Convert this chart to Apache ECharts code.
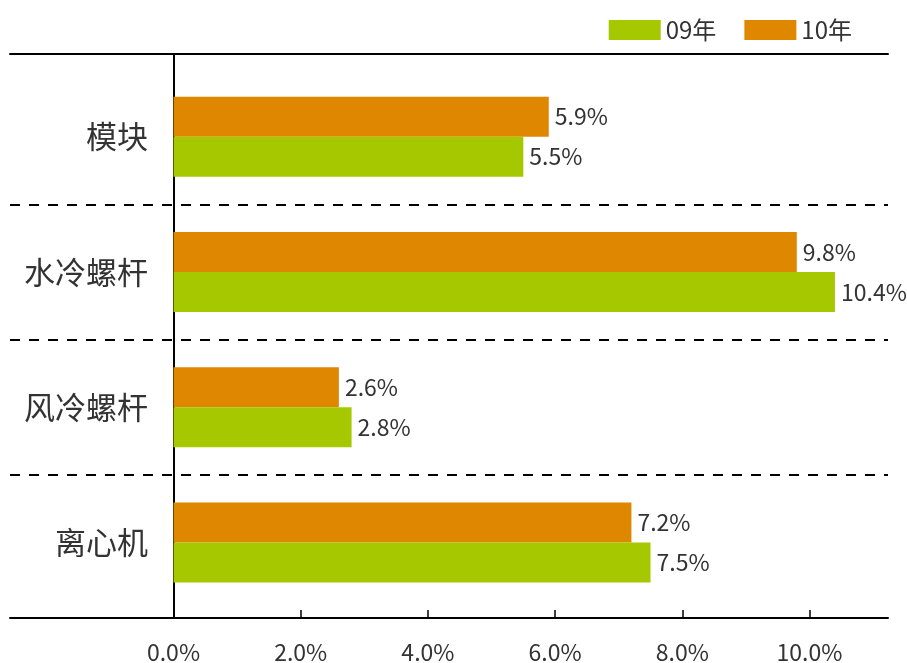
<!DOCTYPE html>
<html>
<head>
<meta charset="utf-8">
<script src="https://cdn.jsdelivr.net/npm/echarts@6/dist/echarts.min.js"></script>
<style>html,body{margin:0;padding:0;background:#fff}#c{width:907px;height:663px}</style>
</head>
<body>
<div id="c"></div>
<script>
const categories = ['模块', '水冷螺杆', '风冷螺杆', '离心机'];
const values09 = [5.5, 10.4, 2.8, 7.5];
const values10 = [5.9, 9.8, 2.6, 7.2];
const tickValues = [0, 2, 4, 6, 8, 10];
const seriesNames = ['09年', '10年'];

const GREEN = '#a6c800';
const ORANGE = '#e08700';
const TEXT = '#333';
const FONT = '"Noto Sans CJK SC", "Noto Sans", sans-serif';
const XMIN = -2.571, XMAX = 11.234;

const chart = echarts.init(document.getElementById('c'));
const pct = v => Number(v).toFixed(1) + '%';
chart.setOption({
  animation: false,
  textStyle: { fontFamily: FONT },
  legend: {
    data: seriesNames,
    right: 50, top: 13,
    icon: 'rect', itemWidth: 52, itemHeight: 20, itemGap: 28,
    textStyle: { fontSize: 24, color: TEXT, fontFamily: FONT }
  },
  grid: [
    { left: 10, right: 19, top: 54, bottom: 45, containLabel: false, outerBoundsMode: 'none' },
    { left: 10, right: 19, top: 69, bottom: 53, containLabel: false, outerBoundsMode: 'none' }
  ],
  xAxis: [
    {
      gridIndex: 0, type: 'value', min: XMIN, max: XMAX, position: 'bottom',
      axisLine: { show: true, onZero: false, lineStyle: { color: '#000', width: 2 } },
      axisTick: { show: true, inside: true, length: 8, customValues: tickValues.filter(v => v !== 0), lineStyle: { color: '#000', width: 1.5 } },
      axisLabel: { customValues: tickValues, formatter: pct, fontSize: 23, color: TEXT, margin: 23, fontFamily: FONT },
      splitLine: { show: false }
    },
    {
      gridIndex: 0, type: 'value', min: XMIN, max: XMAX, position: 'top',
      axisLine: { show: true, onZero: false, lineStyle: { color: '#000', width: 2 } },
      axisTick: { show: false }, axisLabel: { show: false }, splitLine: { show: false }
    },
    {
      gridIndex: 1, type: 'value', min: XMIN, max: XMAX, show: false,
      splitLine: { show: false }
    }
  ],
  yAxis: [
    {
      gridIndex: 0, type: 'value', min: 0, max: 1,
      axisLine: { show: true, onZero: true, onZeroAxisIndex: 0, lineStyle: { color: '#000', width: 2 } },
      axisTick: { show: false }, axisLabel: { show: false }, splitLine: { show: false }
    },
    {
      gridIndex: 1, type: 'category', inverse: true, data: categories,
      axisLine: { show: false, onZero: false },
      axisTick: { show: false },
      axisLabel: { inside: true, align: 'right', fontSize: 31, color: TEXT, margin: 138, fontFamily: FONT },
      splitLine: { show: true, showMinLine: false, showMaxLine: false, lineStyle: { color: '#000', width: 2, type: [10, 9] } }
    }
  ],
  series: [
    {
      name: seriesNames[1], type: 'bar', xAxisIndex: 2, yAxisIndex: 1, data: values10,
      barWidth: 40, barGap: '0%',
      itemStyle: { color: ORANGE },
      label: { show: true, position: 'right', distance: 6, formatter: p => pct(p.value), fontSize: 23, color: TEXT, fontFamily: FONT }
    },
    {
      name: seriesNames[0], type: 'bar', xAxisIndex: 2, yAxisIndex: 1, data: values09,
      barWidth: 40, barGap: '0%',
      itemStyle: { color: GREEN },
      label: { show: true, position: 'right', distance: 6, formatter: p => pct(p.value), fontSize: 23, color: TEXT, fontFamily: FONT }
    }
  ]
});
</script>
</body>
</html>
